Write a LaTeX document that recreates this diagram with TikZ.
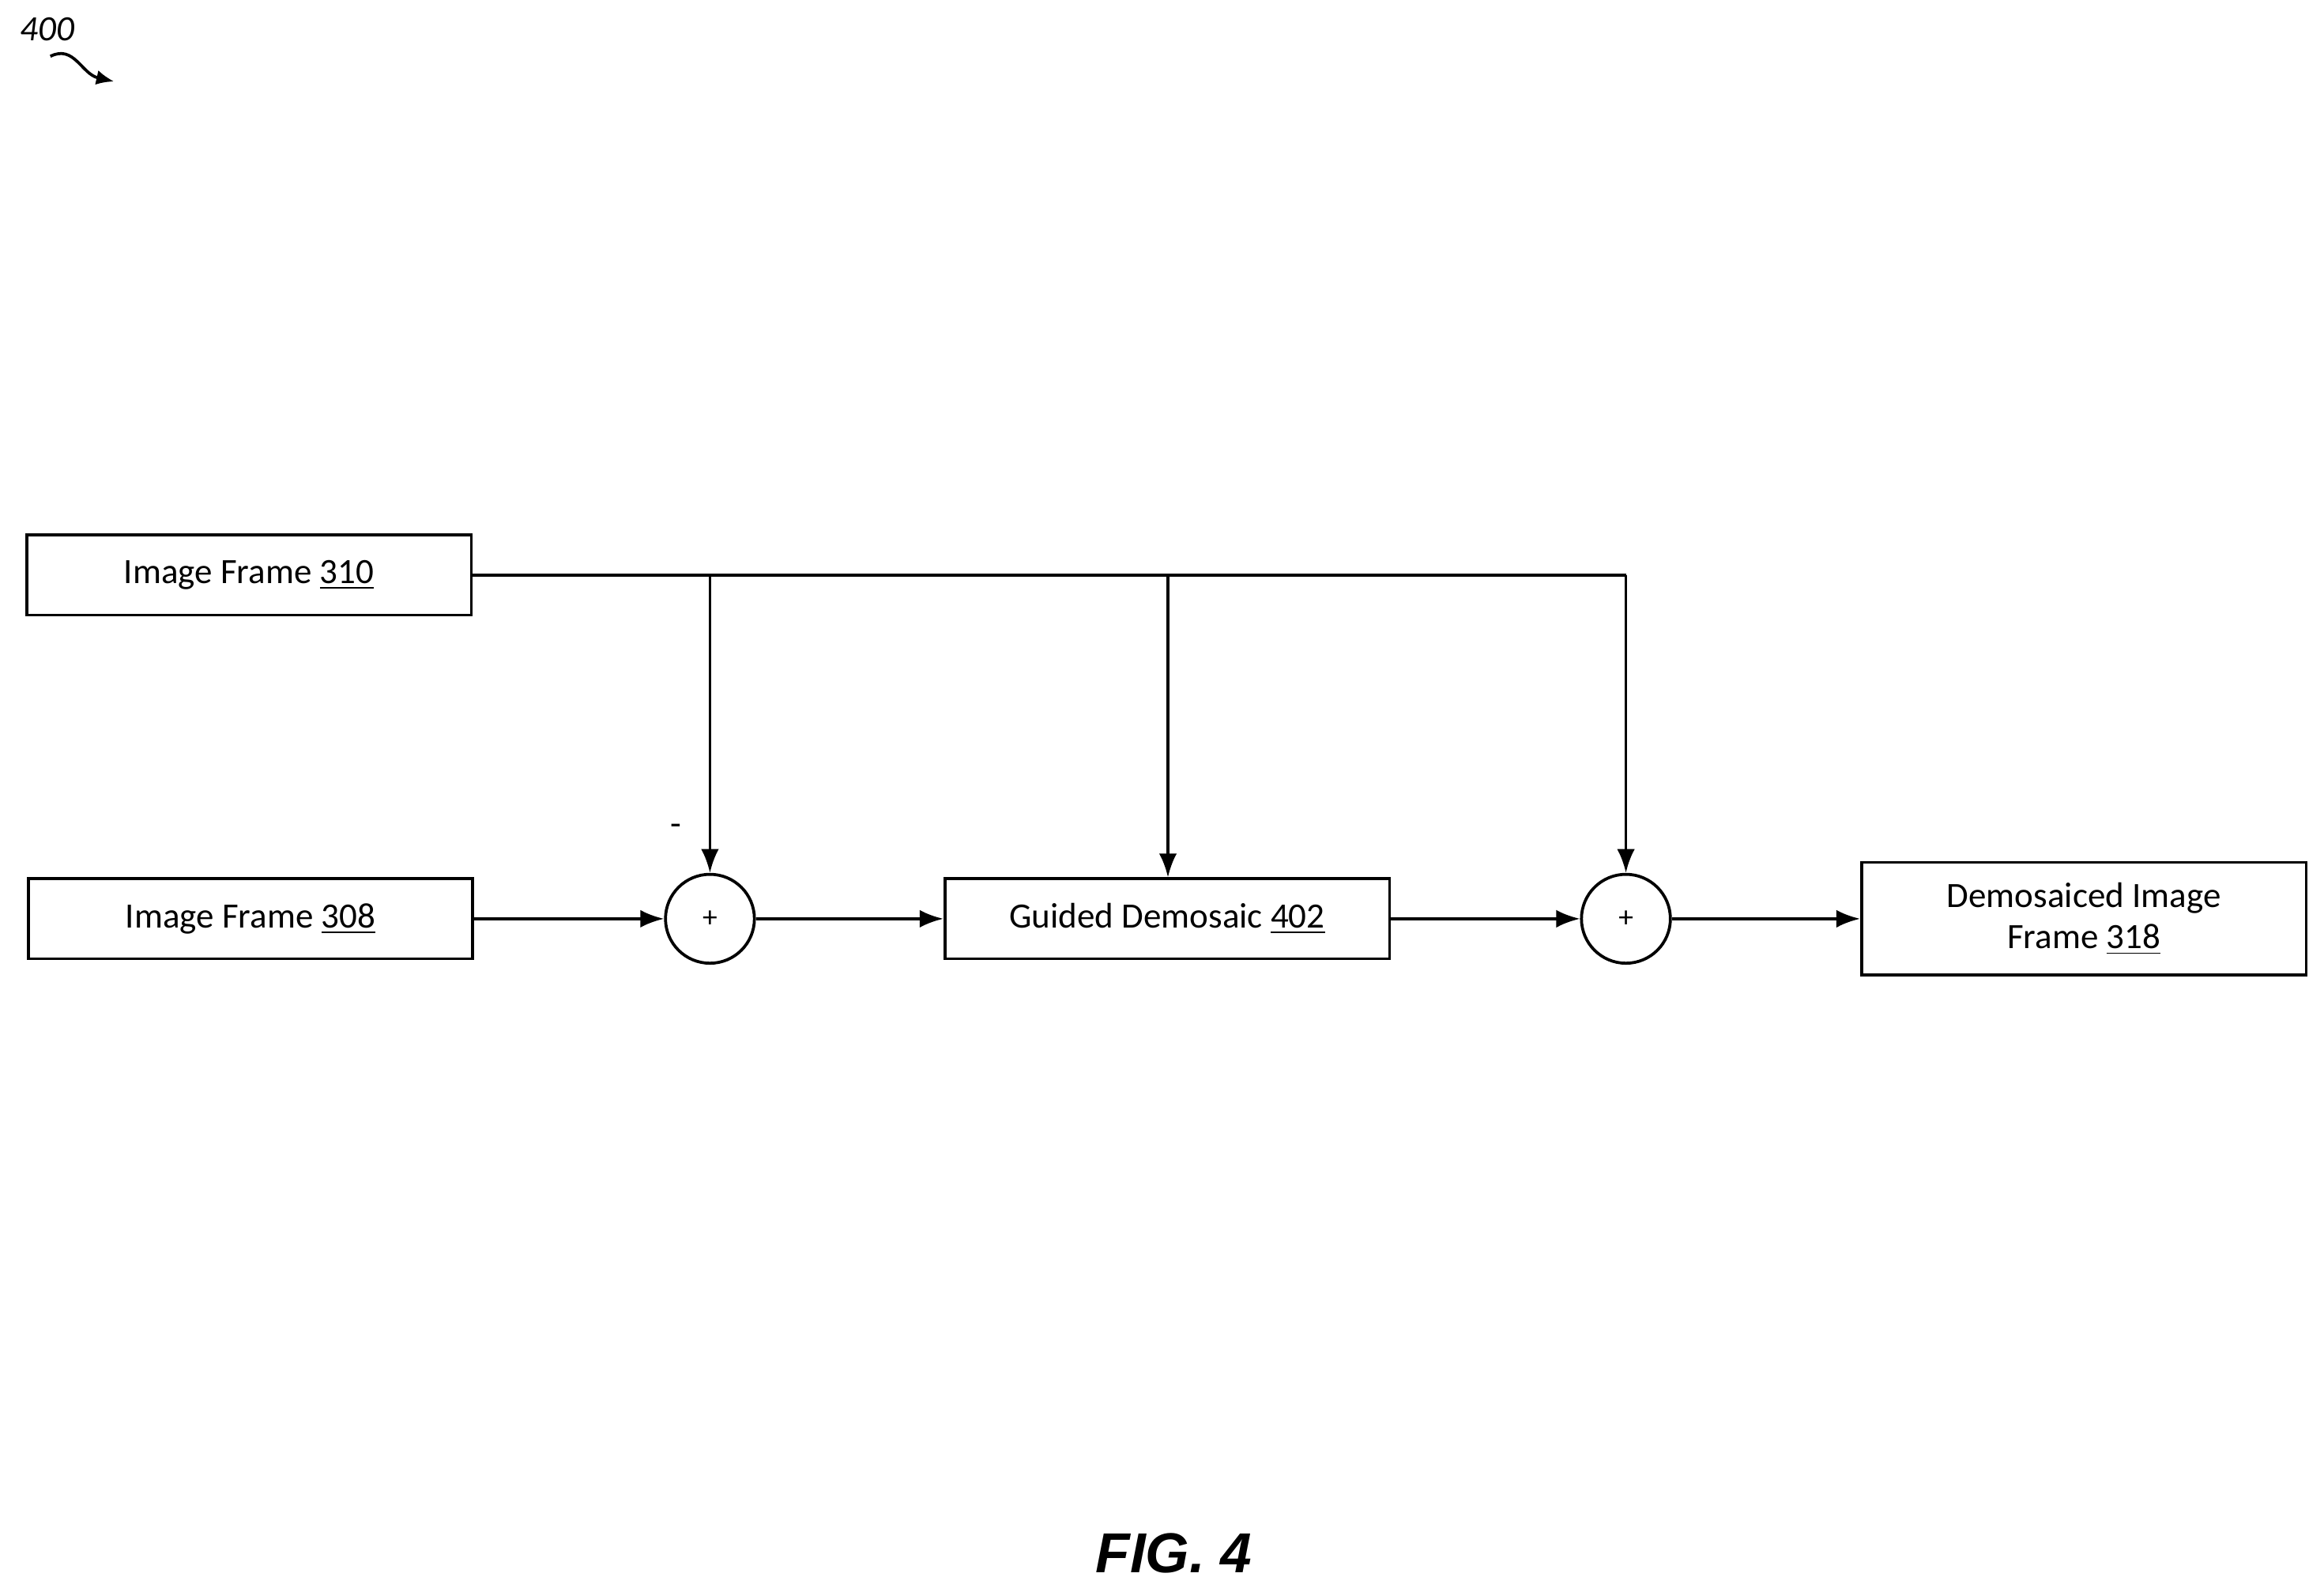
\documentclass[tikz,border=0pt]{standalone}
\usepackage{fontspec}
\setmainfont{Carlito}
\newfontfamily\figfont{Liberation Sans}
\usetikzlibrary{arrows.meta}
\begin{document}
\begin{tikzpicture}[x=0.5pt,y=-0.5pt,
  box/.style={draw,line width=1pt,minimum width=150pt,minimum height=27pt,inner sep=0pt,font=\fontsize{12}{14}\selectfont,align=center},
  sum/.style={draw,circle,line width=1pt,minimum size=30pt,inner sep=0pt,font=\fontsize{10}{12}\selectfont},
  arr/.style={-{Latex[length=8pt,width=6pt]},line width=1pt}]
\useasboundingbox (0,0) rectangle (1568,1074);
\node[box] (f310) at (168,388) {Image Frame \underline{310}};
\node[box] (f308) at (169,620) {Image Frame \underline{308}};
\node[sum] (s1) at (479,620) {+};
\node[box] (gd) at (787.5,620) {Guided Demosaic \underline{402}};
\node[sum] (s2) at (1097,620) {+};
\node[box,minimum height=38pt] (out) at (1406,620) {Demosaiced Image\\Frame \underline{318}};
\coordinate (j1) at (479,388);
\coordinate (j2) at (788,388);
\coordinate (j3) at (1097,388);
\draw[line width=1pt] (f310.east) -- (j3);
\draw[arr] (j1) -- (s1.north);
\draw[arr] (j2) -- (gd.north -| j2);
\draw[arr] (j3) -- (s2.north);
\draw[arr] (f308) -- (s1);
\draw[arr] (s1) -- (gd);
\draw[arr] (gd) -- (s2);
\draw[arr] (s2) -- (out);
\node[font=\fontsize{12}{14}\selectfont] (minus) at (456,560) {-};
\node[font=\fontsize{12}{14}\selectfont\itshape] (lbl) at (32,20) {400};
\coordinate (sq1) at (34,38);
\coordinate (sq2) at (77,55);
\draw[-{Latex[length=6pt,width=5pt]},line width=1pt] (sq1) .. controls (50,30) and (55,50) .. (sq2);
\node[font=\figfont\fontsize{19}{22}\selectfont\bfseries\itshape] (fig) at (792,1048) {FIG. 4};
\end{tikzpicture}
\end{document}
